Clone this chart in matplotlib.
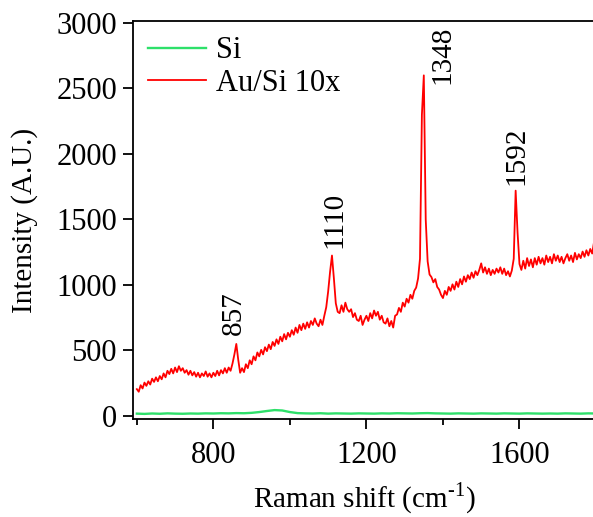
import numpy as np
import matplotlib
matplotlib.use("Agg")
import matplotlib.pyplot as plt
from matplotlib.ticker import MultipleLocator

# Raman spectra
# Au/Si 10x, sampled every 5 cm^-1 from 600 to 1800
AU_SHIFT = np.arange(600, 1801, 5)
AU_INT = [
    205, 185, 235, 210, 255, 230, 265, 240, 285, 260,
    295, 265, 305, 280, 325, 295, 345, 320, 360, 325,
    370, 335, 380, 345, 365, 330, 350, 315, 345, 310,
    335, 300, 330, 295, 325, 305, 340, 300, 325, 295,
    330, 305, 345, 310, 350, 325, 365, 330, 370, 345,
    400, 470, 550, 430, 330, 365, 335, 395, 365, 425,
    395, 455, 425, 485, 455, 505, 470, 525, 495, 545,
    510, 565, 535, 585, 550, 605, 570, 625, 585, 635,
    605, 655, 620, 675, 635, 695, 655, 705, 665, 715,
    675, 725, 695, 745, 705, 685, 735, 695, 765, 830,
    950, 1100, 1225, 1050, 860, 795, 785, 845, 795, 865,
    815, 795, 815, 755, 785, 735, 725, 765, 695, 735,
    765, 725, 785, 745, 805, 765, 795, 735, 765, 715,
    705, 745, 685, 725, 675, 765, 775, 825, 795, 865,
    835, 895, 865, 925, 895, 955, 980, 1050, 1200, 2300,
    2600, 1500, 1180, 1080, 1060, 1020, 1045, 985, 965, 925,
    900, 955, 925, 985, 955, 1005, 965, 1025, 985, 1045,
    1005, 1065, 1025, 1075, 1045, 1095, 1055, 1105, 1075, 1115,
    1165, 1095, 1135, 1085, 1125, 1075, 1115, 1085, 1125, 1095,
    1135, 1085, 1125, 1075, 1105, 1065, 1110, 1200, 1720, 1400,
    1160, 1115, 1185, 1125, 1205, 1145, 1195, 1135, 1205, 1155,
    1215, 1165, 1205, 1155, 1225, 1175, 1215, 1165, 1235, 1185,
    1225, 1175, 1215, 1165, 1205, 1235, 1185, 1225, 1175, 1245,
    1195, 1235, 1205, 1255, 1215, 1265, 1225, 1275, 1240, 1330,
    1280,
]

# bare Si, sampled every 20 cm^-1
SI_SHIFT = np.arange(600, 1801, 20)
SI_INT = [
    18, 16, 19, 17, 20, 18, 17, 19, 18, 20,
    19, 21, 20, 22, 21, 24, 30, 38, 45, 42,
    30, 22, 20, 19, 21, 18, 20, 19, 18, 20,
    19, 18, 20, 19, 21, 20, 19, 21, 22, 20,
    19, 18, 20, 19, 18, 20, 19, 18, 20, 19,
    18, 20, 19, 18, 19, 18, 20, 19, 18, 20,
    19,
]

# peak labels: (position, peak height, label)
PEAKS = [(857, 557, "857"), (1110, 1228, "1110"), (1348, 2600, "1348"), (1592, 1724, "1592")]

plt.rcParams["font.family"] = ["Liberation Serif", "DejaVu Serif"]
plt.rcParams["mathtext.fontset"] = "custom"
plt.rcParams["mathtext.rm"] = "Liberation Serif"

fig = plt.figure(figsize=(5.93, 5.17), dpi=100)
ax = fig.add_axes([133 / 593, 98 / 517, 463 / 593, 398 / 517])

ax.plot(SI_SHIFT, SI_INT, color="#2ee06a", lw=1.7, label="Si")
ax.plot(AU_SHIFT, AU_INT, color="#ff0000", lw=1.3, label="Au/Si 10x")

offsets = {"857": (-1, 6), "1110": (2, 5), "1348": (14, -6), "1592": (0, 4)}
for pos, height, lab in PEAKS:
    dx, dy = offsets[lab]
    ax.annotate(lab, (pos, height), xytext=(dx, dy), textcoords="offset points",
                rotation=90, ha="center", va="bottom", fontsize=21)

ax.set_xlim(590, 1800)
ax.set_ylim(-23, 3015)
ax.xaxis.set_major_locator(MultipleLocator(400))
ax.xaxis.set_minor_locator(MultipleLocator(200))
ax.yaxis.set_major_locator(MultipleLocator(500))
ax.tick_params(which="major", direction="out", length=7.5, width=1.3, labelsize=22)
ax.tick_params(which="minor", direction="out", length=4.5, width=1.3)
ax.tick_params(axis="x", which="both", top=False, pad=8)
ax.tick_params(axis="y", pad=4)
ax.spines["right"].set_visible(False)
for s in ("left", "bottom", "top"):
    ax.spines[s].set_linewidth(1.3)

ax.set_xlabel(r"Raman shift (cm$^{\text{-1}}$)", fontsize=21, labelpad=8)
ax.set_ylabel("Intensity (A.U.)", fontsize=21, labelpad=13)

ax.legend(loc="upper left", frameon=False, fontsize=22, handlelength=1.9,
          handletextpad=0.3, labelspacing=0.12, borderaxespad=0.1)

fig.savefig("out.png", dpi=100)
